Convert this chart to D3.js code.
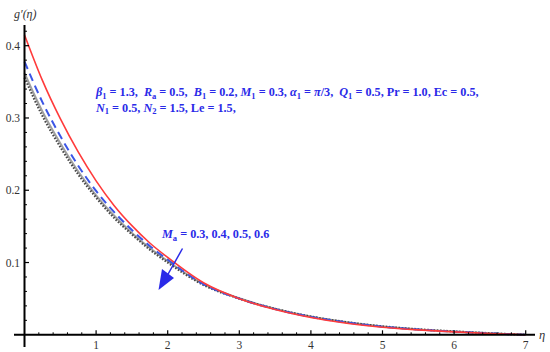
<!DOCTYPE html>
<html lang="en">
<head>
    <meta charset="UTF-8">
    <title>g'(eta) profiles</title>
    <style>
        body { margin: 0; background: #fff; }
        svg { display: block; }
    </style>
</head>
<body>
    <div id="chart"></div>

    <script src="https://d3js.org/d3.v7.min.js"></script>
    <script>
        // Data
        const eta = [0, 0.25, 0.5, 0.75, 1, 1.25, 1.5, 1.75, 2, 2.5, 3, 3.5, 4, 4.5, 5, 5.5, 6, 6.5, 7];
        const ma03 = [0.415, 0.352, 0.299, 0.253, 0.213, 0.179, 0.151, 0.127, 0.107, 0.072, 0.050, 0.035, 0.024, 0.016, 0.0105, 0.0068, 0.0040, 0.0018, 0];
        const ma04 = [0.378, 0.322, 0.275, 0.234, 0.199, 0.170, 0.145, 0.123, 0.104, 0.070, 0.050, 0.0355, 0.0248, 0.0170, 0.0112, 0.0072, 0.0043, 0.0020, 0];
        const ma05 = [0.362, 0.309, 0.265, 0.226, 0.193, 0.165, 0.141, 0.120, 0.102, 0.070, 0.0505, 0.036, 0.0252, 0.0173, 0.0115, 0.0075, 0.0045, 0.0021, 0];
        const ma06 = [0.356, 0.303, 0.260, 0.222, 0.190, 0.162, 0.139, 0.118, 0.100, 0.069, 0.050, 0.036, 0.0253, 0.0175, 0.0117, 0.0077, 0.0047, 0.0022, 0];
        const xTicks = [1, 2, 3, 4, 5, 6, 7];
        const yTicks = [0.1, 0.2, 0.3, 0.4];

        const width = 550, height = 352;
        const blue = "#2a2ae8";
        const serif = "'Liberation Serif', 'Times New Roman', Times, serif";

        const x = d3.scaleLinear().domain([0, 7]).range([24.5, 525.7]);
        const y = d3.scaleLinear().domain([0, 0.4]).range([334.8, 45.7]);

        const svg = d3.select("#chart").append("svg")
            .attr("width", width)
            .attr("height", height)
            .style("font-family", serif);

        // curves
        const line = d3.line()
            .x((d, i) => x(eta[i]))
            .y(d => y(d))
            .curve(d3.curveMonotoneX);

        const series = [
            { v: ma05, color: "#a0a0a0", w: 2, dash: null },
            { v: ma06, color: "#4a4a4a", w: 2.2, dash: "1.6,1.6" },
            { v: ma04, color: "#3b55e6", w: 2, dash: "8,5" },
            { v: ma03, color: "#ff3b3b", w: 1.6, dash: null }
        ];

        svg.selectAll(".curve")
            .data(series)
            .enter()
            .append("path")
            .attr("class", "curve")
            .attr("d", d => line(d.v))
            .attr("fill", "none")
            .attr("stroke", d => d.color)
            .attr("stroke-width", d => d.w)
            .attr("stroke-dasharray", d => d.dash);

        // axes
        svg.append("line")
            .attr("x1", 14).attr("x2", 535)
            .attr("y1", y(0)).attr("y2", y(0))
            .attr("stroke", "#000").attr("stroke-width", 2);
        svg.append("line")
            .attr("x1", x(0)).attr("x2", x(0))
            .attr("y1", 25).attr("y2", 347)
            .attr("stroke", "#000").attr("stroke-width", 2);

        // x ticks: major + minor, pointing up
        const xMinor = d3.range(0.2, 7.01, 0.2).filter(v => Math.abs(v - Math.round(v)) > 0.01);
        svg.selectAll(".xminor").data(xMinor).enter().append("line")
            .attr("x1", d => x(d)).attr("x2", d => x(d))
            .attr("y1", y(0)).attr("y2", y(0) - 2.5)
            .attr("stroke", "#000").attr("stroke-width", 1);
        svg.selectAll(".xmajor").data(xTicks).enter().append("line")
            .attr("x1", d => x(d)).attr("x2", d => x(d))
            .attr("y1", y(0)).attr("y2", y(0) - 4.5)
            .attr("stroke", "#000").attr("stroke-width", 1.2);
        svg.selectAll(".xlab").data(xTicks).enter().append("text")
            .attr("x", d => x(d)).attr("y", 349)
            .attr("text-anchor", "middle")
            .attr("font-size", 11.5).attr("fill", "#333")
            .text(d => d);

        // y ticks, pointing right
        const yMinor = d3.range(0.02, 0.421, 0.02).filter(v => Math.abs(v * 10 - Math.round(v * 10)) > 0.01);
        svg.selectAll(".yminor").data(yMinor).enter().append("line")
            .attr("x1", x(0)).attr("x2", x(0) + 2.5)
            .attr("y1", d => y(d)).attr("y2", d => y(d))
            .attr("stroke", "#000").attr("stroke-width", 1);
        svg.selectAll(".ymajor").data(yTicks).enter().append("line")
            .attr("x1", x(0)).attr("x2", x(0) + 4.5)
            .attr("y1", d => y(d)).attr("y2", d => y(d))
            .attr("stroke", "#000").attr("stroke-width", 1.2);
        svg.selectAll(".ylab").data(yTicks).enter().append("text")
            .attr("x", 20).attr("y", d => y(d) + 4)
            .attr("text-anchor", "end")
            .attr("font-size", 11.5).attr("fill", "#333")
            .text(d => d.toFixed(1));

        // axis labels
        svg.append("text").attr("x", 14).attr("y", 18)
            .attr("font-size", 12).attr("font-style", "italic").attr("fill", "#333")
            .text("g\u2032(\u03B7)");
        svg.append("text").attr("x", 539).attr("y", 339)
            .attr("font-size", 12.5).attr("font-style", "italic").attr("fill", "#333")
            .text("\u03B7");

        // rich text helper: [text, kind] where kind: i=italic, s=subscript, n=normal
        function rich(xp, yp, parts) {
            const t = svg.append("text")
                .attr("x", xp).attr("y", yp)
                .attr("font-size", 12.2)
                .attr("font-weight", "bold")
                .attr("fill", blue)
                .style("white-space", "pre");
            let sub = false;
            parts.forEach(p => {
                const s = t.append("tspan").text(p[0]);
                if (p[1] === "i") s.attr("font-style", "italic");
                if (p[1] === "s") {
                    s.attr("font-size", 8.5).attr("dy", 2.5);
                    sub = true;
                } else if (sub) {
                    s.attr("dy", -2.5);
                    sub = false;
                }
            });
            return t;
        }

        rich(96, 96, [
            ["\u03B2", "i"], ["1", "s"], [" = 1.3,  ", "n"],
            ["R", "i"], ["a", "s"], [" = 0.5,  ", "n"],
            ["B", "i"], ["1", "s"], [" = 0.2, ", "n"],
            ["M", "i"], ["1", "s"], [" = 0.3, ", "n"],
            ["\u03B1", "i"], ["1", "s"], [" = ", "n"], ["\u03C0", "i"], ["/3,  ", "n"],
            ["Q", "i"], ["1", "s"], [" = 0.5, Pr = 1.0, Ec = 0.5,", "n"]
        ]);
        rich(96, 111.5, [
            ["N", "i"], ["1", "s"], [" = 0.5, ", "n"],
            ["N", "i"], ["2", "s"], [" = 1.5, Le = 1.5,", "n"]
        ]);
        rich(162, 238, [
            ["M", "i"], ["a", "s"], [" = 0.3, 0.4, 0.5, 0.6", "n"]
        ]);

        // arrow
        svg.append("line")
            .attr("x1", 182.5).attr("y1", 248.5)
            .attr("x2", 167).attr("y2", 276)
            .attr("stroke", blue).attr("stroke-width", 1.5);
        svg.append("path")
            .attr("d", "M158.5,290 L162,269 L174,278 Z")
            .attr("fill", blue);
    </script>
</body>
</html>
